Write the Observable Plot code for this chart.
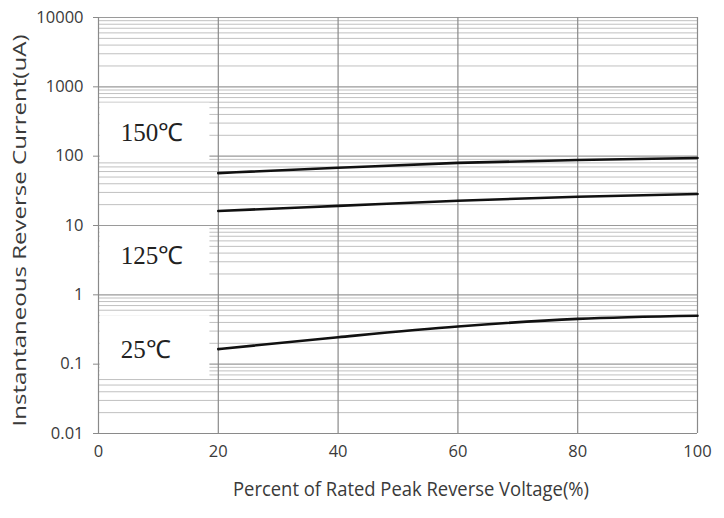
<!DOCTYPE html>
<html>
<head>
<meta charset="utf-8">
<script src="https://cdn.jsdelivr.net/npm/d3@7"></script>
<script src="https://cdn.jsdelivr.net/npm/@observablehq/plot@0.6"></script>
<style>
  html, body { margin: 0; padding: 0; background: #fff; }
</style>
</head>
<body>
<div id="chart"></div>
<script>
// ---- data ----
const voltage = [20, 40, 60, 80, 100];            // % of rated peak reverse voltage
const current150 = [57, 68, 80, 88, 94];         // uA at 150 C
const current125 = [16.2, 19.2, 22.8, 26, 28.5]; // uA at 125 C
const current25 = [0.165, 0.245, 0.35, 0.45, 0.5]; // uA at 25 C

const seriesNames = ["150℃", "125℃", "25℃"];
const labelCurrent = [215, 3.6, 0.16];           // where each temperature label sits
const boxHigh = [580, 9.6, 0.5];                 // white label boxes (current range)
const boxLow = [83, 1.08, 0.062];

const xTicks = [0, 20, 40, 60, 80, 100];
const yTicks = [0.01, 0.1, 1, 10, 100, 1000, 10000];
const xTitle = "Percent of Rated Peak Reverse Voltage(%)";
const yTitle = "Instantaneous Reverse Current(uA)";

// ---- build tables ----
const curves = [current150, current125, current25];
const lineData = curves.flatMap((arr, i) =>
  arr.map((c, j) => ({series: seriesNames[i], v: voltage[j], c})));
const boxes = seriesNames.map((s, i) => ({s, y1: boxLow[i], y2: boxHigh[i], ly: labelCurrent[i]}));
const minorTicks = yTicks.slice(0, -1).flatMap(d => [2,3,4,5,6,7,8,9].map(k => d * k));

const chart = Plot.plot({
  width: 724,
  height: 518,
  marginLeft: 98,
  marginRight: 27,
  marginTop: 17,
  marginBottom: 85,
  style: {fontFamily: "'Open Sans', sans-serif", fontSize: "16.5px", background: "#fff", color: "#3a3a3a", overflow: "visible"},
  x: {domain: [0, 100]},
  y: {type: "log", domain: [0.01, 10000]},
  marks: [
    Plot.ruleY(minorTicks, {stroke: "#c0c0c0", strokeWidth: 1}),
    Plot.ruleY(yTicks, {stroke: "#9a9a9a", strokeWidth: 1.2}),
    Plot.ruleX(xTicks.slice(1), {stroke: "#8a8a8a", strokeWidth: 1.2}),
    Plot.rectY(boxes, {x1: 0.25, x2: 18.6, y1: "y1", y2: "y2", fill: "white"}),
    Plot.text(boxes, {x: 3.7, y: "ly", text: "s", textAnchor: "start",
      fontFamily: "'Liberation Serif', serif", fontSize: 25, fill: "#222"}),
    Plot.ruleX([0], {stroke: "#8a8a8a", strokeWidth: 1.2}),
    Plot.ruleY([0.01], {stroke: "#8a8a8a", strokeWidth: 1.2}),
    Plot.line(lineData, {x: "v", y: "c", z: "series", stroke: "#111", strokeWidth: 2.6, curve: "monotone-x"}),
    Plot.axisY(yTicks, {tickFormat: d => String(d), tickSize: 5, tickPadding: 10,
      fontSize: 16.5, label: null, stroke: "#8a8a8a"}),
    Plot.axisX(xTicks, {tickSize: 0, tickPadding: 12, fontSize: 16.5, label: null}),
    Plot.text([xTitle], {frameAnchor: "bottom", dx: 13, dy: 62, fontSize: 20, fill: "#3a3a3a", className: "xtitle"}),
    Plot.text([yTitle], {frameAnchor: "left", textAnchor: "middle", dx: -78, dy: 5, rotate: -90,
      fontSize: 17.5, fill: "#3a3a3a", className: "ytitle"})
  ]
});
document.getElementById("chart").appendChild(chart);
// stretch / compress the titles to the reference lengths
d3.select(chart).selectAll(".xtitle text").attr("textLength", 356).attr("lengthAdjust", "spacingAndGlyphs");
d3.select(chart).selectAll(".ytitle text").attr("textLength", 392).attr("lengthAdjust", "spacingAndGlyphs");
</script>
</body>
</html>
